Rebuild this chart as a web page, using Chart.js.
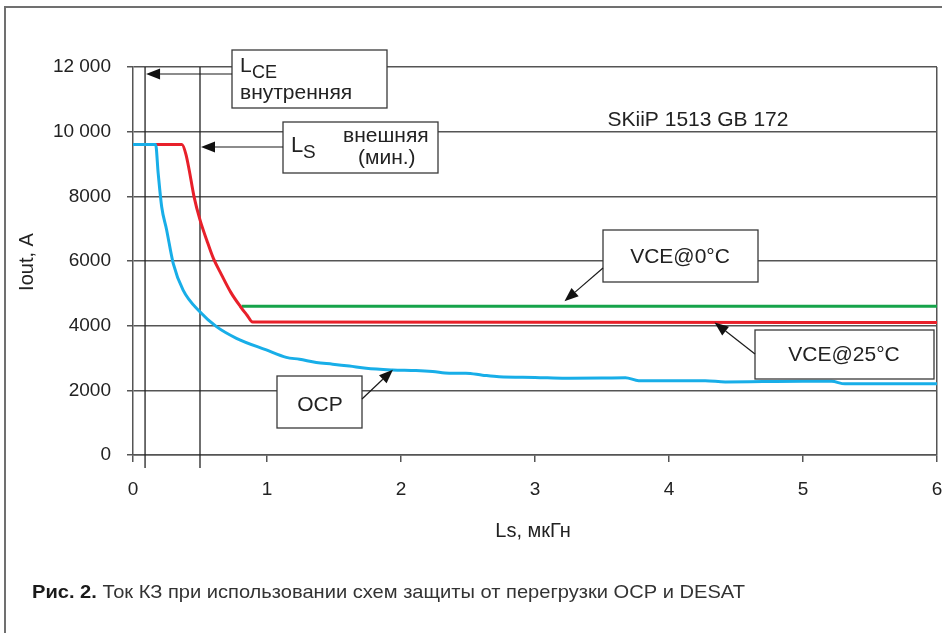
<!DOCTYPE html>
<html>
<head>
<meta charset="utf-8">
<script src="https://cdn.jsdelivr.net/npm/chart.js@4.4.0/dist/chart.umd.min.js"></script>
<style>
html,body{margin:0;padding:0;background:#fff;}
canvas{display:block;}
</style>
</head>
<body>
<canvas id="c" width="942" height="633"></canvas>
<script>
// -------- данные --------
const yTickValues = [0, 2000, 4000, 6000, 8000, 10000, 12000];
const yTickLabels = ['0', '2000', '4000', '6000', '8000', '10 000', '12 000'];

// OCP (голубая)
const ocpX = [0, 0.169, 0.188, 0.214, 0.251, 0.30, 0.374, 0.499, 0.623, 0.772, 0.995, 1.144, 1.243, 1.368, 1.49, 1.615, 1.74, 1.938, 2.112, 2.236, 2.36, 2.484, 2.608, 2.732, 3.0, 3.228, 3.5, 3.675, 3.774, 4.0, 4.27, 4.42, 4.7, 5.0, 5.213, 5.313, 5.6, 6.0];
const ocpY = [9600, 9600, 8710, 7680, 6960, 5930, 5100, 4430, 3970, 3610, 3250, 3020, 2960, 2860, 2810, 2750, 2680, 2630, 2610, 2580, 2530, 2530, 2470, 2420, 2400, 2375, 2380, 2390, 2300, 2300, 2300, 2260, 2270, 2280, 2280, 2200, 2200, 2200];

// VCE@25°C (красная)
const vce25X = [0, 0.365, 0.395, 0.42, 0.455, 0.5, 0.55, 0.6, 0.66, 0.73, 0.8, 0.85, 0.893, 6];
const vce25Y = [9600, 9600, 9300, 8800, 8000, 7270, 6650, 6080, 5580, 5030, 4600, 4330, 4110, 4100];

// VCE@0°C (зелёная)
const vce0X = [0.81, 6];
const vce0Y = [4600, 4600];

// вертикальные линии LCE и LS
const markerLines = [0.09, 0.5];

const gridColor = '#555555';
const FONT = "'Liberation Sans', Arial, sans-serif";

function pts(xs, ys){ return xs.map((x,i)=>({x:x, y:ys[i]})); }

// -------- выноски --------
function box(ctx, x1, y1, x2, y2){
    ctx.fillStyle = '#fff';
    ctx.fillRect(x1, y1, x2-x1, y2-y1);
    ctx.strokeStyle = '#3a3a3a';
    ctx.lineWidth = 1.3;
    ctx.strokeRect(x1, y1, x2-x1, y2-y1);
}
function arrow(ctx, x1, y1, x2, y2){
    const a = Math.atan2(y2-y1, x2-x1);
    const len = 14, hw = 5.5;
    const bx = x2 - len*Math.cos(a), by = y2 - len*Math.sin(a);
    ctx.strokeStyle = '#1a1a1a';
    ctx.lineWidth = 1.2;
    ctx.beginPath(); ctx.moveTo(x1, y1); ctx.lineTo(bx, by); ctx.stroke();
    ctx.fillStyle = '#111';
    ctx.beginPath();
    ctx.moveTo(x2, y2);
    ctx.lineTo(bx + hw*Math.sin(a), by - hw*Math.cos(a));
    ctx.lineTo(bx - hw*Math.sin(a), by + hw*Math.cos(a));
    ctx.closePath(); ctx.fill();
}
function txt(ctx, s, x, y, size, align){
    ctx.font = size + 'px ' + FONT;
    ctx.fillStyle = '#222';
    ctx.textAlign = align || 'left';
    ctx.textBaseline = 'alphabetic';
    ctx.fillText(s, x, y);
}

const decor = {
    id: 'decor',
    beforeDraw(chart){
        const ctx = chart.ctx;
        ctx.save();
        ctx.fillStyle = '#fff';
        ctx.fillRect(0, 0, chart.width, chart.height);
        ctx.strokeStyle = '#707070';
        ctx.lineWidth = 2;
        ctx.beginPath();
        ctx.moveTo(5, chart.height); ctx.lineTo(5, 7); ctx.lineTo(chart.width, 7);
        ctx.stroke();
        ctx.restore();
    },
    beforeDatasetsDraw(chart){
        const ctx = chart.ctx, x = chart.scales.x, y = chart.scales.y;
        ctx.save();
        ctx.strokeStyle = '#222';
        ctx.lineWidth = 1.3;
        markerLines.forEach(v=>{
            const px = x.getPixelForValue(v);
            ctx.beginPath();
            ctx.moveTo(px, y.getPixelForValue(12000));
            ctx.lineTo(px, y.getPixelForValue(0) + 13);
            ctx.stroke();
        });
        ctx.restore();
    },
    afterDatasetsDraw(chart){
        const ctx = chart.ctx, x = chart.scales.x, y = chart.scales.y;
        const X = v => x.getPixelForValue(v), Y = v => y.getPixelForValue(v);
        ctx.save();
        // LCE внутренняя
        box(ctx, 232, 50, 387, 108);
        arrow(ctx, 232, 74, X(markerLines[0]) + 1, 74);
        txt(ctx, 'L', 240, 72, 21);
        txt(ctx, 'CE', 252, 78, 18);
        txt(ctx, 'внутренняя', 240, 99, 21);
        // LS внешняя
        box(ctx, 283, 122, 438, 173);
        arrow(ctx, 283, 147, X(markerLines[1]) + 1, 147);
        txt(ctx, 'L', 291, 152, 22);
        txt(ctx, 'S', 303, 158, 19);
        txt(ctx, 'внешняя', 343, 142, 21);
        txt(ctx, '(мин.)', 358, 164, 21);
        // SKiiP
        txt(ctx, 'SKiiP 1513 GB 172', 698, 126, 21, 'center');
        // VCE@0°C
        box(ctx, 603, 230, 758, 282);
        arrow(ctx, 603, 268, X(3.22), Y(4600) - 5);
        txt(ctx, 'VCE@0°C', 680, 263, 21, 'center');
        // VCE@25°C
        box(ctx, 755, 330, 934, 379);
        arrow(ctx, 755, 354, X(4.34), Y(4100));
        txt(ctx, 'VCE@25°C', 844, 361, 21, 'center');
        // OCP
        box(ctx, 277, 376, 362, 428);
        arrow(ctx, 362, 399, X(1.94), Y(2640));
        txt(ctx, 'OCP', 320, 411, 21, 'center');
        ctx.restore();
    },
    afterDraw(chart){
        const ctx = chart.ctx;
        ctx.save();
        // подписи осей
        txt(ctx, 'Ls, мкГн', 533, 537, 20, 'center');
        ctx.translate(33, 262);
        ctx.rotate(-Math.PI/2);
        txt(ctx, 'Iout, A', 0, 0, 20, 'center');
        ctx.restore();
        // подпись рисунка
        ctx.save();
        const f1 = "bold 19px 'Liberation Sans', Arial, sans-serif";
        const f2 = "19px 'Liberation Sans', Arial, sans-serif";
        const s1 = 'Рис. 2.', s2 = ' Ток КЗ при использовании схем защиты от перегрузки OCP и DESAT';
        ctx.font = f1; const w1 = ctx.measureText(s1).width;
        ctx.font = f2; const w2 = ctx.measureText(s2).width;
        const k = 713 / (w1 + w2);
        ctx.translate(32, 598);
        ctx.scale(k, 1);
        ctx.textBaseline = 'alphabetic';
        ctx.textAlign = 'left';
        ctx.font = f1; ctx.fillStyle = '#1a1a1a'; ctx.fillText(s1, 0, 0);
        ctx.font = f2; ctx.fillStyle = '#333'; ctx.fillText(s2, w1, 0);
        ctx.restore();
    }
};

new Chart(document.getElementById('c'), {
    type: 'line',
    data: {
        datasets: [
            {label: 'OCP', data: pts(ocpX, ocpY), borderColor: '#18aee8', borderWidth: 3, cubicInterpolationMode: 'monotone'},
            {label: 'VCE@25°C', data: pts(vce25X, vce25Y), borderColor: '#e8202a', borderWidth: 3, cubicInterpolationMode: 'monotone'},
            {label: 'VCE@0°C', data: pts(vce0X, vce0Y), borderColor: '#16a34a', borderWidth: 3}
        ]
    },
    options: {
        responsive: false,
        animation: false,
        events: [],
        layout: {padding: {left: 0, right: 5, top: 67, bottom: 0}},
        elements: {point: {radius: 0}, line: {fill: false}},
        plugins: {legend: {display: false}, tooltip: {enabled: false}},
        scales: {
            x: {
                type: 'linear', min: 0, max: 6,
                ticks: {stepSize: 1, color: '#222', font: {size: 19, family: FONT}, padding: 16},
                grid: {
                    color: c => (c.tick && c.tick.value === 6) ? gridColor : 'rgba(0,0,0,0)',
                    tickColor: gridColor, tickLength: 7, lineWidth: 1.5
                },
                border: {display: true, color: gridColor, width: 1.5},
                afterFit: s => { s.height = 633 - 455; s.paddingLeft = 0; s.paddingRight = 0; }
            },
            y: {
                min: 0, max: 12000,
                ticks: {
                    stepSize: 2000, color: '#222', font: {size: 19, family: FONT}, padding: 16,
                    callback: v => yTickLabels[yTickValues.indexOf(v)]
                },
                grid: {color: gridColor, tickColor: gridColor, tickLength: 6, lineWidth: 1.5},
                border: {display: true, color: gridColor, width: 1.5},
                afterFit: s => { s.width = 133; }
            }
        }
    },
    plugins: [decor]
});
</script>
</body>
</html>
